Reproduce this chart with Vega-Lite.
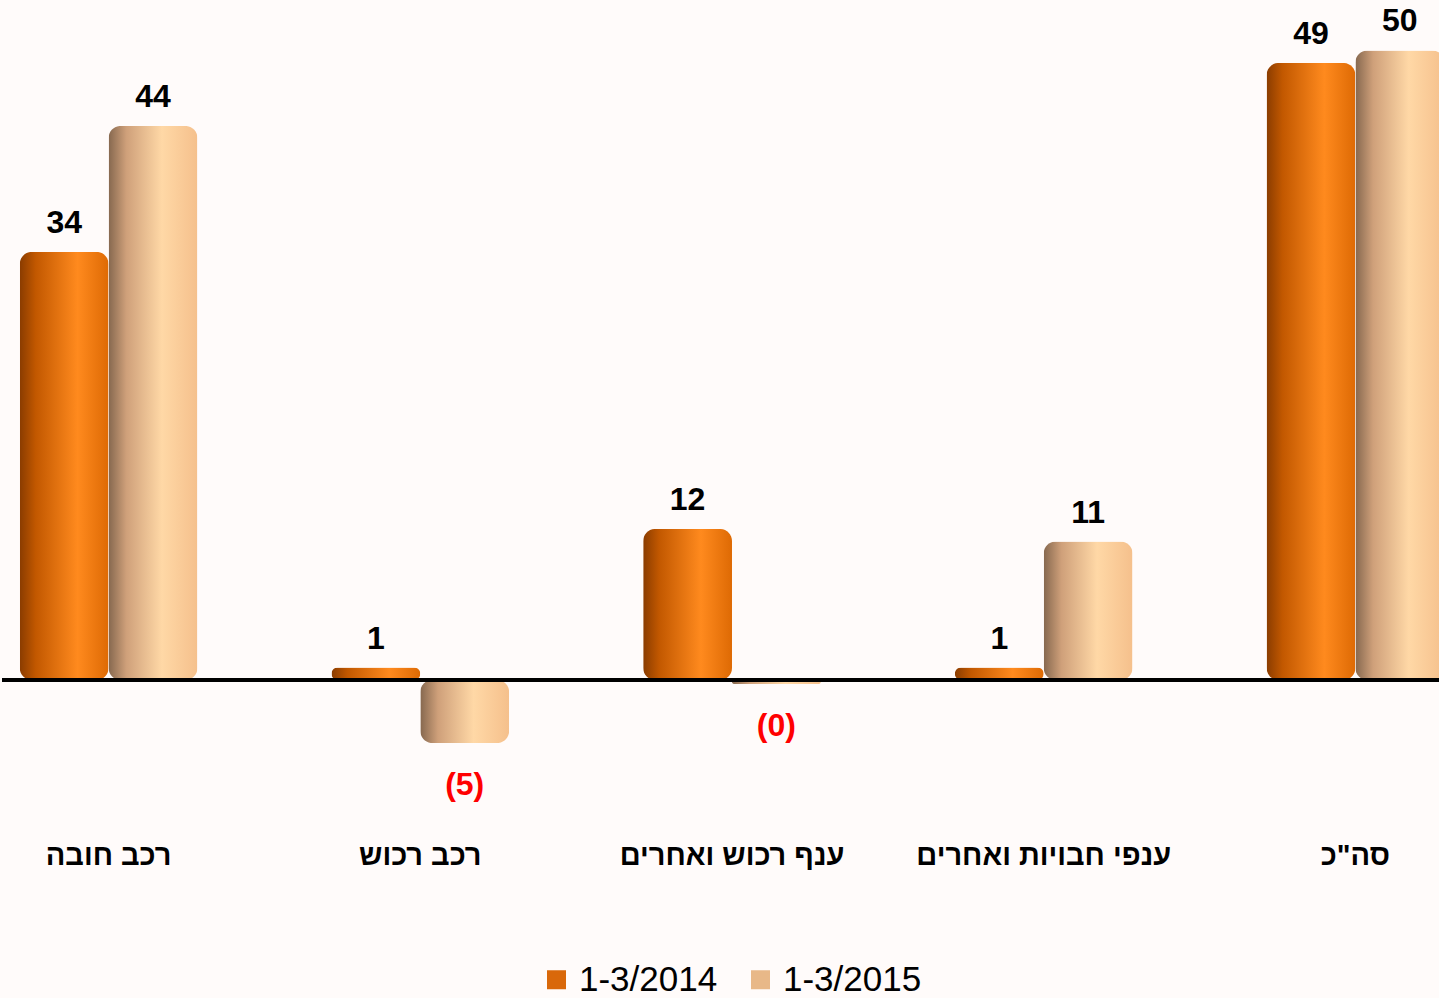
{
  "$schema": "https://vega.github.io/schema/vega-lite/v6.json",
  "width": 1460,
  "height": 830,
  "autosize": {"type": "pad"},
  "padding": 0,
  "background": "#fffbfa",
  "config": {"view": {"stroke": null}, "font": "Liberation Sans"},
  "data": {
    "values": [
      {"cat": "רכב חובה", "period": "1-3/2014", "v": 34, "label": "34"},
      {"cat": "רכב חובה", "period": "1-3/2015", "v": 44, "label": "44"},
      {"cat": "רכב רכוש", "period": "1-3/2014", "v": 1, "label": "1"},
      {"cat": "רכב רכוש", "period": "1-3/2015", "v": -5, "label": "(5)"},
      {"cat": "ענף רכוש ואחרים", "period": "1-3/2014", "v": 12, "label": "12"},
      {"cat": "ענף רכוש ואחרים", "period": "1-3/2015", "v": -0.3, "label": "(0)"},
      {"cat": "ענפי חבויות ואחרים", "period": "1-3/2014", "v": 1, "label": "1"},
      {"cat": "ענפי חבויות ואחרים", "period": "1-3/2015", "v": 11, "label": "11"},
      {"cat": "סה\"כ", "period": "1-3/2014", "v": 49, "label": "49"},
      {"cat": "סה\"כ", "period": "1-3/2015", "v": 50, "label": "50"}
    ]
  },
  "encoding": {
    "x": {
      "field": "cat",
      "type": "nominal",
      "sort": null,
      "scale": {"paddingInner": 0.43, "paddingOuter": 0.057},
      "axis": {
        "title": null,
        "domain": false,
        "ticks": false,
        "labelAngle": 0,
        "labelFont": "Liberation Sans",
        "labelFontWeight": "bold",
        "labelFontSize": 29,
        "labelColor": "#000000",
        "labelPadding": 11,
        "labelLimit": 400
      }
    },
    "xOffset": {
      "field": "period",
      "type": "nominal",
      "scale": {"domain": ["1-3/2014", "1-3/2015"], "paddingInner": 0, "paddingOuter": 0}
    },
    "y": {
      "field": "v",
      "type": "quantitative",
      "scale": {"domain": [-11.9, 54], "nice": false, "zero": false},
      "axis": null
    }
  },
  "layer": [
    {
      "transform": [{"filter": "datum.period == '1-3/2014'"}],
      "mark": {
        "type": "bar",
        "cornerRadius": 12,
        "color": {
          "gradient": "linear",
          "x1": 0, "y1": 0, "x2": 1, "y2": 0,
          "stops": [
            {"offset": 0, "color": "#8a3c00"},
            {"offset": 0.18, "color": "#c25800"},
            {"offset": 0.65, "color": "#ff8a1e"},
            {"offset": 1, "color": "#de6a04"}
          ]
        }
      }
    },
    {
      "transform": [{"filter": "datum.period == '1-3/2015'"}],
      "mark": {
        "type": "bar",
        "cornerRadius": 12,
        "color": {
          "gradient": "linear",
          "x1": 0, "y1": 0, "x2": 1, "y2": 0,
          "stops": [
            {"offset": 0, "color": "#86684f"},
            {"offset": 0.2, "color": "#cfa07a"},
            {"offset": 0.6, "color": "#ffd8a6"},
            {"offset": 1, "color": "#f5c08c"}
          ]
        }
      }
    },
    {
      "mark": {"type": "bar", "opacity": 0},
      "encoding": {
        "color": {
          "field": "period",
          "type": "nominal",
          "scale": {"domain": ["1-3/2014", "1-3/2015"], "range": ["#d9680a", "#e8b888"]},
          "legend": {
            "title": null,
            "orient": "none",
            "direction": "horizontal",
            "legendX": 537,
            "legendY": 962,
            "symbolType": "square",
            "symbolSize": 361,
            "symbolOpacity": 1,
            "symbolStrokeWidth": 0,
            "labelFont": "Liberation Sans",
            "labelFontSize": 35,
            "labelColor": "#000000",
            "labelOffset": 5,
            "columnPadding": 25,
            "labelLimit": 300
          }
        }
      }
    },
    {
      "mark": {"type": "rule", "color": "#000000", "strokeWidth": 3.5},
      "encoding": {"y": {"datum": 0}, "x": null, "xOffset": null}
    },
    {
      "transform": [{"filter": "datum.v >= 0"}],
      "mark": {
        "type": "text",
        "font": "Liberation Sans",
        "fontWeight": "bold",
        "fontSize": 32,
        "baseline": "alphabetic",
        "dy": -19,
        "color": "#000000"
      },
      "encoding": {"text": {"field": "label"}}
    },
    {
      "transform": [{"filter": "datum.v < 0"}],
      "mark": {
        "type": "text",
        "font": "Liberation Sans",
        "fontWeight": "bold",
        "fontSize": 32,
        "baseline": "middle",
        "dy": 42,
        "color": "#ff0000"
      },
      "encoding": {"text": {"field": "label"}}
    }
  ]
}
